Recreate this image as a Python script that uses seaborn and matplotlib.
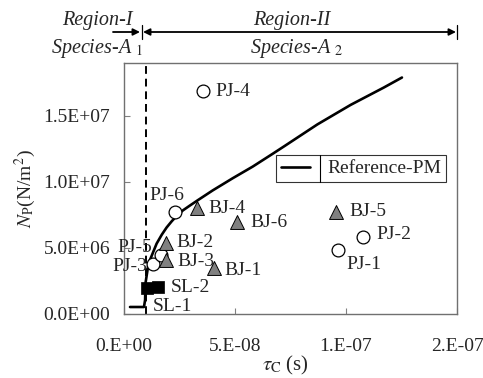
import numpy as np
import pandas as pd
import matplotlib
matplotlib.use('Agg')
import matplotlib.pyplot as plt
import seaborn as sns

# Reference-PM curve (tau_c in s, Np in N/m2)
curve_tau = [0.27e-8, 0.9e-8, 0.95e-8, 0.97e-8, 1.08e-8, 1.17e-8, 1.47e-8, 1.70e-8,
             1.92e-8, 2.15e-8, 2.36e-8, 2.65e-8, 2.96e-8, 3.33e-8, 4.00e-8, 4.90e-8,
             5.80e-8, 6.69e-8, 7.22e-8, 8.71e-8, 10.21e-8, 11.70e-8, 12.52e-8]
curve_np = [0.53e6, 0.53e6, 1.06e6, 2.35e6, 3.56e6, 4.09e6, 5.33e6, 6.0e6,
            6.55e6, 7.02e6, 7.40e6, 7.84e6, 8.2e6, 8.62e6, 9.36e6, 10.28e6,
            11.16e6, 12.12e6, 12.7e6, 14.35e6, 15.83e6, 17.14e6, 17.9e6]

# measured points
pj_names = ['PJ-1', 'PJ-2', 'PJ-3', 'PJ-4', 'PJ-5', 'PJ-6']
pj_tau = [9.64e-8, 10.76e-8, 1.30e-8, 3.54e-8, 1.66e-8, 2.29e-8]
pj_np = [4.85e6, 5.83e6, 3.79e6, 16.9e6, 4.47e6, 7.73e6]

bj_names = ['BJ-1', 'BJ-2', 'BJ-3', 'BJ-4', 'BJ-5', 'BJ-6']
bj_tau = [4.04e-8, 1.88e-8, 1.88e-8, 3.27e-8, 9.55e-8, 5.11e-8]
bj_np = [3.48e6, 5.38e6, 4.09e6, 8.05e6, 7.73e6, 6.97e6]

sl_names = ['SL-1', 'SL-2']
sl_tau = [1.05e-8, 1.55e-8]
sl_np = [1.97e6, 2.05e6]

x_ticks = [0, 5e-8, 1e-7, 1.5e-7]
x_ticklabels = ['0.E+00', '5.E-08', '1.E-07', '2.E-07']
y_ticks = [0, 5e6, 1e7, 1.5e7]
y_ticklabels = ['0.0E+00', '5.0E+06', '1.0E+07', '1.5E+07']

sns.set_style('ticks')
plt.rcParams['font.family'] = ['Liberation Serif', 'DejaVu Serif']
plt.rcParams['mathtext.fontset'] = 'stix'
plt.rcParams['font.size'] = 14

fig = plt.figure(figsize=(4.83, 3.78), dpi=100)
ax = fig.add_axes([124 / 483, 1 - 314 / 378, 333 / 483, 251 / 378])

curve = pd.DataFrame({'tau': curve_tau, 'np': curve_np})
sns.lineplot(data=curve, x='tau', y='np', sort=False, estimator=None, color='black',
             linewidth=1.9, ax=ax, label='Reference-PM', zorder=3)

ax.axvline(1e-8, color='black', linestyle=(0, (4, 2.5)), linewidth=1.4, zorder=2)

pj = pd.DataFrame({'tau': pj_tau, 'np': pj_np})
bj = pd.DataFrame({'tau': bj_tau, 'np': bj_np})
sl = pd.DataFrame({'tau': sl_tau, 'np': sl_np})
sns.scatterplot(data=pj, x='tau', y='np', marker='o', s=85, facecolor='white',
                edgecolor='black', linewidth=0.9, ax=ax, zorder=4, legend=False)
sns.scatterplot(data=bj, x='tau', y='np', marker='^', s=100, color='#808080',
                edgecolor='black', linewidth=0.7, ax=ax, zorder=4, legend=False)
sns.scatterplot(data=sl, x='tau', y='np', marker='s', s=75, color='black',
                edgecolor='black', linewidth=0.5, ax=ax, zorder=4, legend=False)

# label offsets in pixels (dx, dy, ha)
offsets = {
    'PJ-1': (8, -15, 'left'), 'PJ-2': (14, 2, 'left'), 'PJ-3': (-6, -3, 'right'),
    'PJ-4': (13, -1, 'left'), 'PJ-5': (-9, 7, 'right'), 'PJ-6': (-25, 16, 'left'),
    'BJ-1': (11, -2, 'left'), 'BJ-2': (11, 0, 'left'), 'BJ-3': (12, -2, 'left'),
    'BJ-4': (12, -1, 'left'), 'BJ-5': (13, 0, 'left'), 'BJ-6': (13, -1, 'left'),
    'SL-1': (5, -19, 'left'), 'SL-2': (12, -1, 'left'),
}
for names, xs, ys in [(pj_names, pj_tau, pj_np), (bj_names, bj_tau, bj_np),
                      (sl_names, sl_tau, sl_np)]:
    for n, x, y in zip(names, xs, ys):
        dx, dy, ha = offsets[n]
        ax.annotate(n, (x, y), xytext=(dx, dy), textcoords='offset pixels',
                    ha=ha, va='center', fontsize=14, zorder=5)

ax.set_xlim(0, 1.5e-7)
ax.set_ylim(0, 1.9e7)
ax.set_xticks(x_ticks)
ax.set_xticklabels(x_ticklabels)
ax.set_yticks(y_ticks)
ax.set_yticklabels(y_ticklabels)
ax.tick_params(axis='both', direction='in', length=4, color='#808080', labelsize=14)
ax.tick_params(axis='x', pad=17)
ax.tick_params(axis='y', pad=10)
for sp in ax.spines.values():
    sp.set_color('#707070')
    sp.set_linewidth(1.0)

ax.set_xlabel(r'$\tau_{\mathrm{C}}\;$(s)', fontsize=15)
ax.xaxis.set_label_coords((285 - 124) / 333, -0.16)
ax.set_ylabel(r'$N_{\mathrm{P}}$(N/m$^{2}$)', fontsize=14, labelpad=4)

leg = ax.legend(loc='upper left', bbox_to_anchor=((276 - 124) / 333, (314 - 155) / 251),
                borderaxespad=0, frameon=True, fancybox=False, edgecolor='black',
                handlelength=1.5, handletextpad=0.9, borderpad=0.25, fontsize=14)
leg.get_frame().set_linewidth(0.8)

# region arrows above the plot (figure pixels, origin bottom-left)
H = 378
ay = H - 32
fig.text(97, H - 21, 'Region-I', ha='center', va='center', style='italic',
         fontsize=14.5, transform=None)
fig.text(97, H - 48, r'Species-A $_{\mathit{1}}$', ha='center', va='center',
         style='italic', fontsize=14.5, transform=None)
fig.text(292, H - 21, 'Region-II', ha='center', va='center', style='italic',
         fontsize=14.5, transform=None)
fig.text(297, H - 48, r'Species-A $_{\mathit{2}}$', ha='center', va='center',
         style='italic', fontsize=14.5, transform=None)
arrow = dict(arrowstyle='-|>', color='black', lw=1.3, mutation_scale=10,
             shrinkA=0, shrinkB=0)
ax.annotate('', xy=(140, ay), xycoords='figure pixels', xytext=(113, ay),
            textcoords='figure pixels', arrowprops=arrow, annotation_clip=False)
arrow2 = dict(arrow, arrowstyle='<|-|>')
ax.annotate('', xy=(456, ay), xycoords='figure pixels', xytext=(143, ay),
            textcoords='figure pixels', arrowprops=arrow2, annotation_clip=False)
for bx in [141.5, 456.5]:
    fig.add_artist(plt.Line2D([bx, bx], [H - 25, H - 39], color='black', lw=0.9,
                              transform=None))

# divider inside the legend box, between handle and text
fig.canvas.draw()
tb = leg.get_texts()[0].get_window_extent()
fb = leg.get_frame().get_window_extent()
fig.add_artist(plt.Line2D([tb.x0 - 8, tb.x0 - 8], [fb.y0, fb.y1], color='black',
                          lw=0.8, transform=None))

fig.savefig('out.png', dpi=100)
